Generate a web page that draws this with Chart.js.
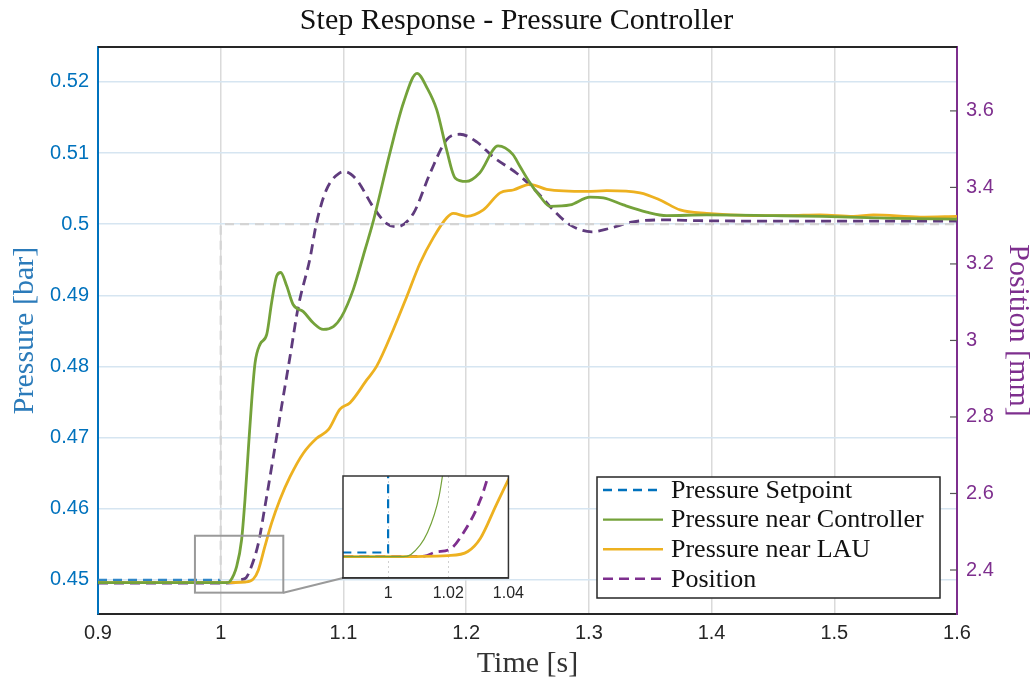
<!DOCTYPE html>
<html lang="en">
<head>
  <meta charset="UTF-8" />
  <title>Step Response - Pressure Controller</title>
  <script src="https://cdn.jsdelivr.net/npm/chart.js"></script>
  <style>
    html, body { margin: 0; padding: 0; background: #fff; }
    #wrap { position: relative; width: 1033px; height: 684px; }
    #mainChart { position: absolute; left: 0; top: 0; }
    #zoomBox { position: absolute; left: 330px; top: 470px; width: 200px; height: 140px; }
  </style>
</head>
<body>
  <div id="wrap">
    <canvas id="mainChart" width="1033" height="684"></canvas>
    <div id="zoomBox"><canvas id="zoomChart" width="200" height="140"></canvas></div>
  </div>

  <script>
    // setpoint step
    const setTime = [0.9, 1.0, 1.0, 1.6];
    const setPressure = [0.45, 0.45, 0.5, 0.5];

    // pressure near controller [bar]
    const ctrlTime = [0.9, 0.95, 1.0, 1.005, 1.0076, 1.013, 1.017, 1.0198, 1.0225, 1.0253, 1.028, 1.032,
      1.0375, 1.0415, 1.0456, 1.0489, 1.0538, 1.059, 1.0673, 1.0755, 1.0836, 1.0918, 1.0985, 1.108,
      1.1176, 1.124, 1.138, 1.149, 1.16, 1.168, 1.176, 1.184, 1.191, 1.2, 1.211, 1.226, 1.238, 1.2439,
      1.252, 1.2602, 1.2684, 1.2847, 1.301, 1.3118, 1.3281, 1.3471, 1.3634, 1.396, 1.45, 1.49, 1.55, 1.6];
    const ctrlPressure = [0.4496, 0.4496, 0.4496, 0.4496, 0.4498, 0.4519, 0.4556, 0.4613, 0.4683, 0.4753, 0.4805, 0.4831,
      0.4845, 0.489, 0.4927, 0.4932, 0.4913, 0.4887, 0.4877, 0.4861, 0.4852, 0.4856, 0.487, 0.4908,
      0.4964, 0.5002, 0.5101, 0.5171, 0.5212, 0.5192, 0.5161, 0.5105, 0.5065, 0.506, 0.5072, 0.511, 0.5098, 0.5081,
      0.5058, 0.5039, 0.5025, 0.5027, 0.5038, 0.5037, 0.5027, 0.5017, 0.5012, 0.5013, 0.5012, 0.5011, 0.5008, 0.5007];

    // pressure near LAU [bar]
    const lauTime = [0.9, 1.0, 1.02, 1.0265, 1.0307, 1.036, 1.0415, 1.0483, 1.0565, 1.0673, 1.0782, 1.0877,
      1.0972, 1.1054, 1.119, 1.127, 1.1407, 1.1516, 1.1624, 1.1733, 1.1842, 1.1895, 1.2004, 1.214, 1.2276,
      1.2384, 1.252, 1.2657, 1.2982, 1.3145, 1.3417, 1.358, 1.3743, 1.396, 1.434, 1.4612, 1.4884, 1.5156,
      1.532, 1.57, 1.6];
    const lauPressure = [0.4496, 0.4496, 0.4497, 0.4501, 0.4514, 0.4547, 0.458, 0.4613, 0.4645, 0.4678, 0.4699, 0.4711,
      0.474, 0.4749, 0.4781, 0.48, 0.4852, 0.4898, 0.4945, 0.4981, 0.5009, 0.5015, 0.5011, 0.502, 0.5044,
      0.5048, 0.5056, 0.5049, 0.5046, 0.5047, 0.5044, 0.5034, 0.502, 0.5015, 0.5012, 0.5012, 0.5013, 0.5011,
      0.5013, 0.501, 0.5011];

    // valve position [mm]
    const posTime = [0.9, 1.0, 1.012, 1.0157, 1.0207, 1.0239, 1.0307, 1.036, 1.0429, 1.0496, 1.0565, 1.0632,
      1.0728, 1.078, 1.086, 1.097, 1.101, 1.111, 1.124, 1.135, 1.1434, 1.157, 1.1706, 1.184, 1.195, 1.2086,
      1.222, 1.2412, 1.2575, 1.271, 1.2847, 1.3024, 1.317, 1.336, 1.3634, 1.39, 1.45, 1.6];
    const posValue = [2.366, 2.366, 2.367, 2.374, 2.38, 2.4, 2.47, 2.565, 2.696, 2.827, 2.958, 3.088,
      3.215, 3.306, 3.393, 3.438, 3.441, 3.419, 3.35, 3.306, 3.297, 3.332, 3.437, 3.524, 3.539, 3.519,
      3.48, 3.437, 3.389, 3.341, 3.302, 3.284, 3.293, 3.31, 3.315, 3.313, 3.312, 3.312];

    const xTicks = [0.9, 1, 1.1, 1.2, 1.3, 1.4, 1.5, 1.6];
    const pressureTicks = [0.45, 0.46, 0.47, 0.48, 0.49, 0.5, 0.51, 0.52];
    const positionTicks = [2.4, 2.6, 2.8, 3, 3.2, 3.4, 3.6];
    const zoomTicks = [1, 1.02, 1.04];

    const serif = "'Liberation Serif', 'Times New Roman', serif";
    const sans = "'Liberation Sans', Arial, sans-serif";
    const BLUE = '#0072bd', GREEN = '#74a23a', ORANGE = '#edb120', PURPLE = '#7e2f8e';

    // where the magnified view sits on the page
    const insetLeft = 343, insetBottom = 578;

    const pts = (xs, ys) => xs.map((x, i) => ({ x: x, y: ys[i] }));
    const fixTicks = list => scale => { scale.ticks = list.map(v => ({ value: v })); };

    function makeDatasets(zoom) {
      return [
        { label: 'Pressure Setpoint', data: pts(setTime, setPressure), yAxisID: 'y',
          borderColor: BLUE, borderDash: [9, 6], borderWidth: 2.2, tension: 0,
          segment: zoom ? {} : { borderColor: c => c.p0DataIndex === 0 ? '#2f86c8' : '#d4d4d4' } },
        { label: 'Pressure near Controller', data: pts(ctrlTime, ctrlPressure), yAxisID: 'y',
          borderColor: GREEN, borderWidth: zoom ? 1.2 : 2.8, cubicInterpolationMode: 'monotone' },
        { label: 'Pressure near LAU', data: pts(lauTime, lauPressure), yAxisID: 'y',
          borderColor: ORANGE, borderWidth: 2.8, cubicInterpolationMode: 'monotone' },
        { label: 'Position', data: pts(posTime, posValue), yAxisID: 'y1',
          borderColor: zoom ? PURPLE : '#5f3b7d', legendColor: PURPLE, borderDash: [10, 6], borderWidth: 2.8,
          cubicInterpolationMode: 'monotone' }
      ];
    }

    const mainDecor = {
      id: 'mainDecor',
      afterDatasetsDraw(chart) {
        const { ctx, chartArea: a, scales: { x, y, y1 } } = chart;
        ctx.save();
        // zoom rectangle + connector to the inset
        const rx0 = x.getPixelForValue(0.979), rx1 = x.getPixelForValue(1.051);
        const ry0 = y.getPixelForValue(0.4562), ry1 = y.getPixelForValue(0.4482);
        ctx.strokeStyle = '#9a9a9a';
        ctx.lineWidth = 2;
        ctx.strokeRect(rx0, ry0, rx1 - rx0, ry1 - ry0);
        ctx.beginPath();
        ctx.moveTo(rx1, ry1);
        ctx.lineTo(insetLeft, insetBottom);
        ctx.stroke();
        // inward ticks of the right axis
        ctx.strokeStyle = '#555';
        ctx.lineWidth = 1.2;
        positionTicks.forEach(v => {
          const py = y1.getPixelForValue(v);
          ctx.beginPath();
          ctx.moveTo(a.right - 7, py);
          ctx.lineTo(a.right, py);
          ctx.stroke();
        });
        // top frame line
        ctx.strokeStyle = '#262626';
        ctx.lineWidth = 2;
        ctx.beginPath();
        ctx.moveTo(a.left, a.top);
        ctx.lineTo(a.right, a.top);
        ctx.stroke();
        ctx.restore();
      },
      afterDraw(chart) {
        const { ctx, chartArea: a } = chart;
        const right = a.right - 17, bottom = a.bottom - 16;
        const left = right - 343, top = bottom - 121;
        ctx.save();
        ctx.fillStyle = '#fff';
        ctx.fillRect(left, top, right - left, bottom - top);
        ctx.strokeStyle = '#262626';
        ctx.lineWidth = 1.5;
        ctx.strokeRect(left, top, right - left, bottom - top);
        ctx.font = '26px ' + serif;
        ctx.textBaseline = 'middle';
        chart.data.datasets.forEach((ds, i) => {
          const cy = top + 13 + i * 29.6;
          ctx.strokeStyle = ds.legendColor || ds.borderColor;
          ctx.lineWidth = 2.4;
          ctx.setLineDash(ds.borderDash || []);
          ctx.beginPath();
          ctx.moveTo(left + 6, cy);
          ctx.lineTo(left + 66, cy);
          ctx.stroke();
          ctx.setLineDash([]);
          ctx.fillStyle = '#111';
          ctx.fillText(ds.label, left + 74, cy + 1);
        });
        ctx.restore();
      }
    };

    new Chart(document.getElementById('mainChart'), {
      type: 'line',
      data: { datasets: makeDatasets(false) },
      options: {
        responsive: false,
        animation: false,
        elements: { point: { radius: 0 } },
        layout: { padding: 0 },
        plugins: {
          legend: { display: false },
          tooltip: { enabled: false },
          title: {
            display: true, text: 'Step Response - Pressure Controller', color: '#111',
            font: { family: serif, size: 30, weight: 'normal' }, padding: { top: 3, bottom: 8 }
          }
        },
        scales: {
          x: {
            type: 'linear', min: 0.9, max: 1.6,
            afterBuildTicks: fixTicks(xTicks),
            afterFit: s => { s.height = 70; },
            ticks: { color: '#262626', font: { family: sans, size: 20 }, padding: 7, maxRotation: 0, autoSkip: false,
              callback: v => String(v) },
            grid: { color: '#dadada', lineWidth: 1.5, drawTicks: false },
            border: { color: '#262626', width: 2 },
            title: { display: true, text: 'Time [s]', color: '#333', font: { family: serif, size: 30 },
              padding: { top: 0, bottom: 2 } }
          },
          y: {
            position: 'left', min: 0.4452, max: 0.5249,
            afterBuildTicks: fixTicks(pressureTicks),
            afterFit: s => { s.width = 98; },
            ticks: { color: BLUE, font: { family: sans, size: 20 }, padding: 9, callback: v => String(v) },
            grid: { color: '#d6e5f1', lineWidth: 1.5, drawTicks: false },
            border: { color: BLUE, width: 2 },
            title: { display: true, text: 'Pressure [bar]', color: '#2b7bba', font: { family: serif, size: 30 },
              padding: { top: 7, bottom: 0 } }
          },
          y1: {
            position: 'right', min: 2.285, max: 3.767,
            afterBuildTicks: fixTicks(positionTicks),
            afterFit: s => { s.width = 76; },
            ticks: { color: PURPLE, font: { family: sans, size: 20 }, padding: 9, callback: v => String(v) },
            grid: { drawOnChartArea: false, drawTicks: false },
            border: { color: PURPLE, width: 2 },
            title: { display: true, text: 'Position [mm]', color: PURPLE,
              font: { family: serif, size: 30, lineHeight: 1 }, padding: { top: 0, bottom: 0 } }
          }
        }
      },
      plugins: [mainDecor]
    });

    const zoomDecor = {
      id: 'zoomDecor',
      beforeDraw(chart) {
        const { ctx, chartArea: a } = chart;
        ctx.save();
        ctx.fillStyle = '#fff';
        ctx.fillRect(a.left, a.top, a.right - a.left, a.bottom - a.top);
        ctx.restore();
      },
      afterDraw(chart) {
        const { ctx, chartArea: a } = chart;
        ctx.save();
        ctx.strokeStyle = '#333';
        ctx.lineWidth = 1.5;
        ctx.strokeRect(a.left, a.top, a.right - a.left, a.bottom - a.top);
        ctx.restore();
      }
    };

    new Chart(document.getElementById('zoomChart'), {
      type: 'line',
      data: { datasets: makeDatasets(true) },
      options: {
        responsive: false,
        animation: false,
        elements: { point: { radius: 0 } },
        layout: { padding: { left: 13, top: 6, right: 21, bottom: 0 } },
        plugins: { legend: { display: false }, tooltip: { enabled: false } },
        scales: {
          x: {
            type: 'linear', min: 0.985, max: 1.04,
            afterBuildTicks: fixTicks(zoomTicks),
            afterFit: s => { s.height = 32; },
            ticks: { color: '#262626', font: { family: sans, size: 16 }, padding: 6, maxRotation: 0, autoSkip: false,
              callback: v => String(v) },
            grid: { color: '#cfcfcf', lineWidth: 1, drawTicks: false },
            border: { color: '#333', width: 1.5, dash: [2, 3] }
          },
          y: { display: false, min: 0.4475, max: 0.4575 },
          y1: { display: false, min: 2.327, max: 2.513 }
        }
      },
      plugins: [zoomDecor]
    });
  </script>
</body>
</html>
